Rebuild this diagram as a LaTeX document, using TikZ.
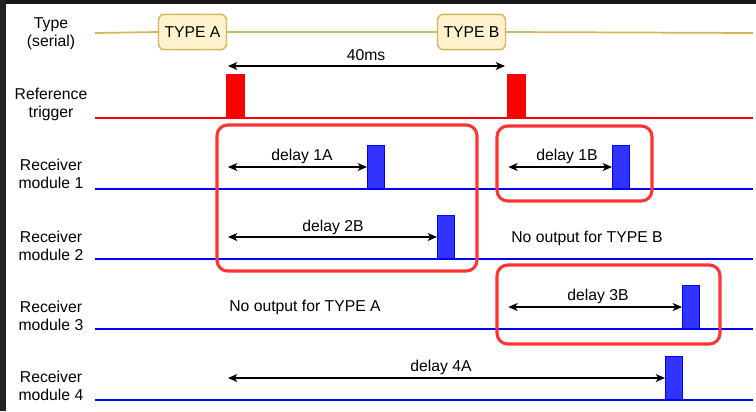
\documentclass[tikz,border=0pt]{standalone}
\usepackage{fontspec}
\setmainfont{Liberation Sans}
\usetikzlibrary{arrows.meta}

\definecolor{serialline}{HTML}{D6B656}
\definecolor{serialfill}{HTML}{FFF2CC}
\definecolor{trigred}{HTML}{FF0000}
\definecolor{rxblue}{HTML}{0000FF}
\definecolor{rxfill}{HTML}{3333FF}
\definecolor{grpred}{HTML}{FF3333}
\definecolor{framedark}{HTML}{181818}

\tikzset{
  rowlabel/.style={align=center, text=black, inner sep=0pt},
  sigline/.style={line width=1.3pt},
  typebox/.style={draw=serialline, fill=serialfill, line width=1.1pt,
    rounded corners=4.5pt, minimum width=51pt, minimum height=26.5pt, inner sep=0pt},
  trigpulse/.style={draw=trigred, fill=trigred, line width=0.6pt,
    minimum width=13.6pt, minimum height=32.4pt, inner sep=0pt, anchor=south west},
  rxpulse/.style={draw=rxblue, fill=rxfill, line width=0.8pt,
    minimum width=12.8pt, minimum height=32.2pt, inner sep=0pt, anchor=south west},
  dimarrow/.style={line width=1.1pt,
    {Stealth[length=7pt,width=6pt,inset=2pt]}-{Stealth[length=7pt,width=6pt,inset=2pt]}},
  grpbox/.style={draw=grpred, line width=2.3pt, rounded corners=8pt},
  txt/.style={text=black, inner sep=0pt}
}

\begin{document}
\begin{tikzpicture}[x=0.75pt, y=-0.75pt, font=\fontsize{11.8}{13.5}\selectfont]
  \useasboundingbox (0,0) rectangle (756,411);
  \fill[white] (0,0) rectangle (756,411);
  % dark window edges
  \fill[framedark] (0,0) rectangle (756,4);
  \fill[framedark!95!white] (0,0) rectangle (6,411);

  % row labels
  \node[rowlabel] (lType) at (51,34) {Type\\(serial)};
  \node[rowlabel] (lTrig) at (51,104) {Reference\\trigger};
  \node[rowlabel] (lR1) at (51,174) {Receiver\\module 1};
  \node[rowlabel] (lR2) at (51,246) {Receiver\\module 2};
  \node[rowlabel] (lR3) at (51,316) {Receiver\\module 3};
  \node[rowlabel] (lR4) at (51,386) {Receiver\\module 4};

  % serial line with message boxes
  \coordinate (s0) at (95,33);
  \coordinate (s1) at (753,33);
  \node[typebox] (tA) at (192.5,32) {TYPE A};
  \node[typebox] (tB) at (471.5,32) {TYPE B};
  \draw[serialline, line width=1.3pt] (s0) -- (tA.west);
  \draw[serialline, line width=1.3pt] (tA.east) -- (tB.west);
  \draw[serialline, line width=1.3pt] (tB.east) -- (s1);

  % trigger line and pulses
  \coordinate (t0) at (95,118);
  \coordinate (t1) at (753,118);
  \draw[sigline, trigred] (t0) -- (t1);
  \node[trigpulse] (pA) at (226,118) {};
  \node[trigpulse] (pB) at (507,118) {};

  % receiver lines
  \foreach \yy/\nm in {189/r1, 259/r2, 329/r3, 400/r4} {
    \coordinate (\nm s) at (95,\yy);
    \coordinate (\nm e) at (753,\yy);
    \draw[sigline, rxblue] (\nm s) -- (\nm e);
  }

  % receiver output pulses
  \node[rxpulse] (o1A) at (367,189) {};
  \node[rxpulse] (o1B) at (612,189) {};
  \node[rxpulse] (o2B) at (437,259) {};
  \node[rxpulse] (o3B) at (682,329) {};
  \node[rxpulse] (o4A) at (665,400) {};

  % period between triggers
  \draw[dimarrow] ([xshift=1.5pt,yshift=6pt]pA.north west) -- ([xshift=-1.5pt,yshift=6pt]pB.north west);
  \node[txt] (l40) at (366,55) {40ms};

  % delays
  \draw[dimarrow] ([xshift=1.5pt]pA.west |- o1A.west) -- (o1A.west);
  \node[txt] (d1A) at (302,156) {delay 1A};
  \draw[dimarrow] ([xshift=1.5pt]pA.west |- o2B.west) -- (o2B.west);
  \node[txt] (d2B) at (333,227) {delay 2B};
  \draw[dimarrow] ([xshift=1pt]pB.west |- o1B.west) -- (o1B.west);
  \node[txt] (d1B) at (567,156) {delay 1B};
  \draw[dimarrow] ([xshift=1pt]pB.west |- o3B.west) -- (o3B.west);
  \node[txt] (d3B) at (598,296) {delay 3B};
  \draw[dimarrow] ([xshift=1.5pt]pA.west |- o4A.west) -- (o4A.west);
  \node[txt] (d4A) at (441,367) {delay 4A};

  % absent outputs
  \node[txt] (noA) at (305,307) {No output for TYPE A};
  \node[txt] (noB) at (587,238) {No output for TYPE B};

  % groupings
  \draw[grpbox] (217,125) rectangle (477,271);
  \draw[grpbox] (497,126) rectangle (652,201);
  \draw[grpbox] (497,265) rectangle (720,344);
\end{tikzpicture}
\end{document}
